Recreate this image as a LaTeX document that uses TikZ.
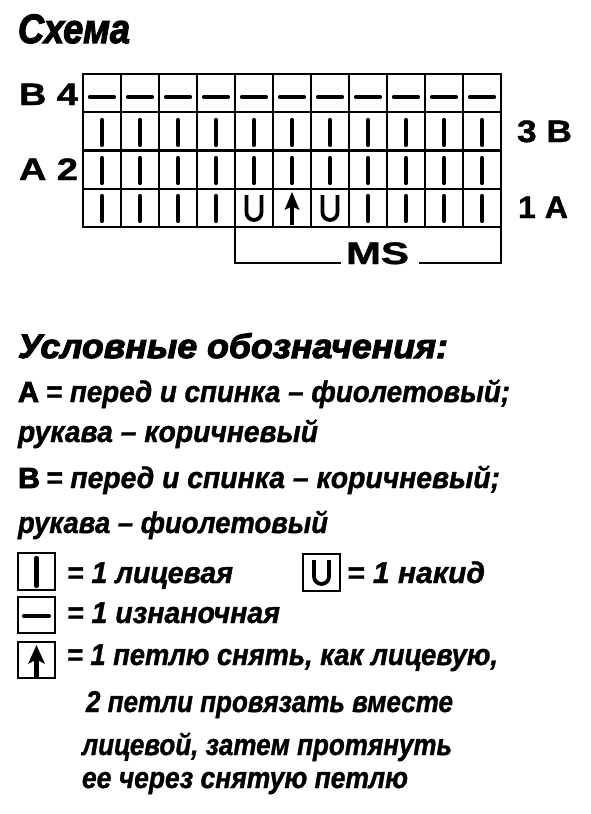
\documentclass[tikz,border=0pt]{standalone}
\usepackage{fontspec}
\usepackage{graphicx}
\setmainfont{Liberation Sans}
\newfontfamily\heavyfont{Liberation Sans}[RawFeature={embolden=3}]
\newfontfamily\medfont{Liberation Sans}[RawFeature={embolden=1.2}]
\newcommand\fitw[2]{\resizebox{#1pt}{\height}{#2}}
\tikzset{
  gridline/.style={line width=2.2pt, line cap=rect},
  knit/.style={line width=4.2pt, line cap=round},
  ubow/.style={line width=3.8pt, line cap=butt},
  lbl/.style={inner sep=0pt, outer sep=0pt, anchor=base west},
  rowlab/.style={lbl, font=\medfont\fontsize{31}{31}\selectfont\bfseries},
  legtxt/.style={lbl, font=\medfont\fontsize{30}{30}\selectfont\bfseries\itshape},
  legbox/.style={line width=2.8pt},
}
\begin{document}
\begin{tikzpicture}[x=1pt,y=-1pt]
\useasboundingbox (0,0) rectangle (591,814);
\fill[white] (0,0) rectangle (591,814);

% title
\node[lbl] (title) at (18,43) {\fitw{112}{\heavyfont\fontsize{41}{41}\selectfont\bfseries\itshape Схема}};

% grid
\foreach \i in {0,...,11} \draw[gridline] (83+38*\i,74) -- (83+38*\i,227);
\foreach \j in {0,...,4} \draw[gridline] (83,74+38.25*\j) -- (501,74+38.25*\j);

% row 4 (top): purl
\foreach \i in {0,...,10} \draw[knit] (83+38*\i+7,97) -- (83+38*\i+31,97);
% rows 3 and 2: knit
\foreach \i in {0,...,10} {
  \draw[knit] (83+38*\i+19,120) -- (83+38*\i+19,145);
  \draw[knit] (83+38*\i+19,158) -- (83+38*\i+19,183);
}
% row 1
\foreach \i in {0,1,2,3,7,8,9,10} \draw[knit] (83+38*\i+19,196) -- (83+38*\i+19,221);
\foreach \i in {4,6} \draw[ubow] (83+38*\i+11.5,195) -- (83+38*\i+11.5,212.5) arc[start angle=180,end angle=360,radius=7.5pt] -- (83+38*\i+26.5,195);
\draw[line width=4.2pt] (292,225) -- (292,204);
\fill (292,192) -- (299.5,210) -- (292,206.5) -- (284.5,210) -- cycle;

% row labels
\node[rowlab] (lb4) at (19,105) {\fitw{59}{B 4}};
\node[rowlab] (l3b) at (517,142) {\fitw{55}{3 B}};
\node[rowlab] (la2) at (19,180) {\fitw{59}{A 2}};
\node[rowlab] (l1a) at (518,218) {\fitw{50}{1 A}};

% MS bracket
\coordinate (msl) at (340,263);
\coordinate (msr) at (420,263);
\draw[gridline] (235,227) -- (235,263) -- (msl);
\draw[gridline] (msr) -- (501,263) -- (501,227);
\node[rowlab] (ms) at (346,264) {\fitw{63}{MS}};

% legend heading
\node[lbl] (head) at (18,358) {\fitw{430}{\heavyfont\fontsize{34}{34}\selectfont\bfseries\itshape Условные обозначения:}};

% A / B lines
\node[lbl, font=\heavyfont\fontsize{29}{29}\selectfont\bfseries] (la) at (18,402) {\fitw{21}{A}};
\node[legtxt] (ta) at (46,402) {\fitw{464}{= перед и спинка – фиолетовый;}};
\node[legtxt] (ta2) at (18,442) {\fitw{300}{рукава – коричневый}};
\node[lbl, font=\heavyfont\fontsize{29}{29}\selectfont\bfseries] (lbb) at (18,488) {\fitw{22}{B}};
\node[legtxt] (tb) at (46,488) {\fitw{454}{= перед и спинка – коричневый;}};
\node[legtxt] (tb2) at (18,533) {\fitw{310}{рукава – фиолетовый}};

% legend symbols
\draw[legbox] (18,553) rectangle (55,590);
\draw[knit] (36.5,558) -- (36.5,586);
\node[legtxt] (tk) at (67,583) {\fitw{166}{= 1 лицевая}};

\draw[legbox] (303,554) rectangle (340,591);
\draw[ubow] (314,560) -- (314,576.5) arc[start angle=180,end angle=360,radius=7.5pt] -- (329,560);
\node[legtxt] (tu) at (347,583) {\fitw{138}{= 1 накид}};

\draw[legbox] (18,597) rectangle (55,633);
\draw[knit] (24,616) -- (49,616);
\node[legtxt] (tp) at (67,623) {\fitw{213}{= 1 изнаночная}};

\draw[legbox] (18,642) rectangle (55,678);
\draw[line width=4.5pt] (36.5,678) -- (36.5,656);
\fill (36.5,645) -- (45,664) -- (36.5,659.5) -- (28,664) -- cycle;
\node[legtxt] (ts1) at (67,665) {\fitw{431}{= 1 петлю снять, как лицевую,}};
\node[legtxt] (ts2) at (86,712) {\fitw{367}{2 петли провязать вместе}};
\node[legtxt] (ts3) at (82,755) {\fitw{370}{лицевой, затем протянуть}};
\node[legtxt] (ts4) at (82,788) {\fitw{326}{ее через снятую петлю}};
\end{tikzpicture}
\end{document}
